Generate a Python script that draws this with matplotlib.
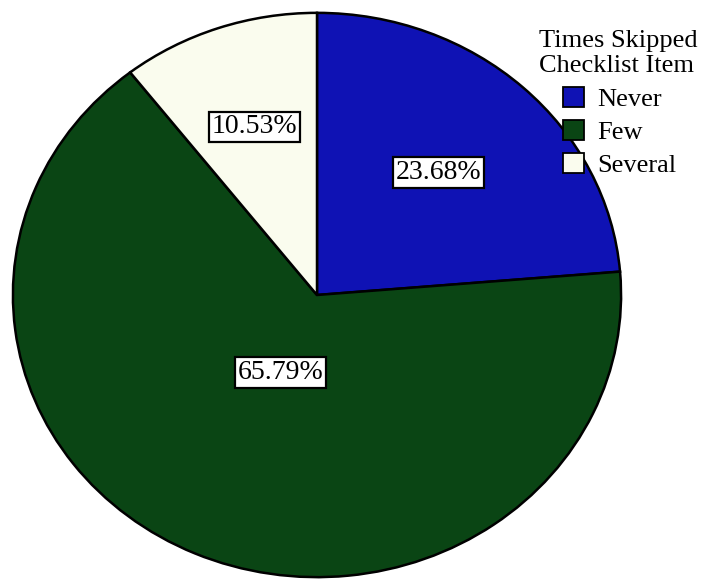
import numpy as np
import matplotlib
matplotlib.use("Agg")
import matplotlib.pyplot as plt
from matplotlib.patches import Patch

categories = ["Never", "Few", "Several"]
percentages = [23.68, 65.79, 10.53]
colors = ["#0f12b4", "#0a4514", "#fafcee"]
label_radius = [0.59, 0.30, 0.63]
legend_title = "Times Skipped\nChecklist Item"

plt.rcParams["font.family"] = ["Liberation Serif", "DejaVu Serif"]

fig = plt.figure(figsize=(7.07, 5.80), dpi=100)
fig.patch.set_facecolor("white")
ax = fig.add_axes([12 / 707, 2 / 580, 610 / 707, 566 / 580])

wedges, _ = ax.pie(
    percentages,
    colors=colors,
    startangle=90,
    counterclock=False,
    radius=1.0,
    wedgeprops=dict(edgecolor="black", linewidth=1.8),
)
ax.set_aspect("auto")
ax.set_xlim(-1.003, 1.003)
ax.set_ylim(-1.003, 1.003)
ax.axis("off")

for w, pct, r in zip(wedges, percentages, label_radius):
    mid = np.deg2rad((w.theta1 + w.theta2) / 2)
    ax.text(
        r * np.cos(mid), r * np.sin(mid), f"{pct:.2f}%",
        ha="center", va="center", fontsize=20, color="black",
        bbox=dict(boxstyle="square,pad=0.1", facecolor="white",
                  edgecolor="black", linewidth=1.6),
    )

# legend title as its own text block, entries indented below it
fig.text(539 / 707, 1 - 30 / 580, legend_title, ha="left", va="top",
         fontsize=19, linespacing=1.15)

handles = [Patch(facecolor=c, edgecolor="black", linewidth=1.3) for c in colors]
leg = fig.legend(
    handles, categories,
    loc="upper left", bbox_to_anchor=(563 / 707, 1 - 87 / 580),
    frameon=False, fontsize=19,
    handlelength=0.8, handleheight=0.8, handletextpad=0.5,
    labelspacing=0.33, borderpad=0.0, borderaxespad=0.0,
)

fig.savefig("out.png", dpi=100, facecolor="white")
